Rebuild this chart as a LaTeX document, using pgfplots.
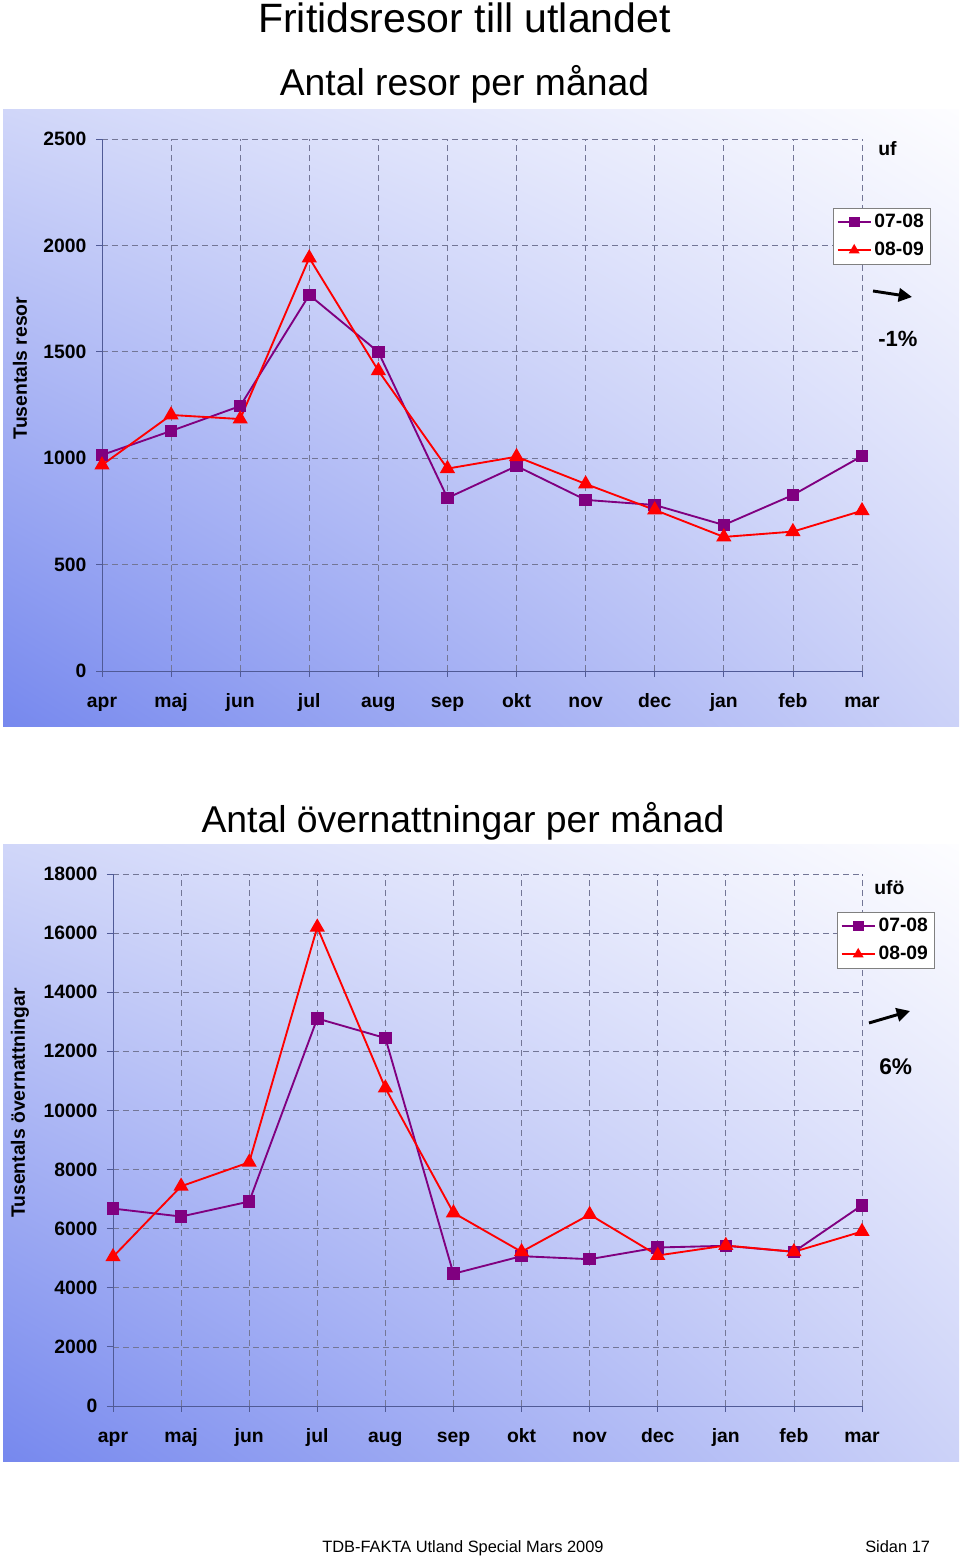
\documentclass[border=0pt]{standalone}
\usepackage{pgfplots}
\pgfplotsset{compat=1.18}
\usepackage{pgfplotstable}
\usepackage{fontspec}
\setmainfont{Liberation Sans}
\usetikzlibrary{arrows.meta,shadings}

\definecolor{ser1}{RGB}{128,0,128}
\definecolor{ser2}{RGB}{255,0,0}
\definecolor{gridc}{RGB}{115,118,150}
\definecolor{axc}{RGB}{80,90,150}
\definecolor{bgLL}{RGB}{118,136,238}
\definecolor{bgUL}{RGB}{208,214,249}
\definecolor{bgLR}{RGB}{204,210,248}
\definecolor{bgUR}{RGB}{253,253,255}

\pgfplotstableread{
x a b
0 1015 968
1 1128 1203
2 1245 1184
3 1767 1941
4 1499 1411
5 813 951
6 963 1007
7 804 879
8 780 757
9 686 630
10 827 655
11 1010 753
}\resor

\pgfplotstableread{
x a b
0 6680 5048
1 6410 7434
2 6917 8245
3 13111 16200
4 12449 10759
5 4474 6535
6 5069 5217
7 4967 6478
8 5363 5093
9 5420 5430
10 5217 5217
11 6792 5903
}\overn

\pgfplotsset{
 panel/.style={
  scale only axis,
  xmin=0, xmax=11, ymin=0,
  axis lines=left,
  axis line style={-, draw=axc, line width=0.6pt},
  xtick={0,...,11},
  xticklabels={apr,maj,jun,jul,aug,sep,okt,nov,dec,jan,feb,mar},
  grid=major,
  major grid style={draw=gridc, line width=0.5pt, dash pattern=on 4.5pt off 3pt},
  tick align=outside, major tick length=4.5pt,
  tick style={draw=axc, line width=0.6pt},
  ticklabel style={font=\fontsize{14.5}{16}\selectfont\bfseries},
  /pgf/number format/assume math mode=true,
  scaled y ticks=false,
  yticklabel style={/pgf/number format/1000 sep={}, xshift=-3.75pt},
  xticklabel style={text height=10.5pt, text depth=3pt, yshift=-9.2pt},
  label style={font=\fontsize{14.5}{16}\selectfont\bfseries},
  legend style={draw=gray, fill=white, font=\fontsize{14.5}{16}\selectfont\bfseries,
     legend cell align=left, inner xsep=2.5pt, inner ysep=2.5pt, row sep=5.5pt, anchor=north west,
     /tikz/every even column/.append style={column sep=1pt}},
  legend image code/.code={\draw[mark repeat=2, mark phase=2, mark size=3.3pt]
     plot coordinates {(0cm,0cm) (0.44cm,0cm) (0.88cm,0cm)};},
 },
 s1/.style={color=ser1, line width=1.4pt, mark=square*, mark size=4pt, mark options={solid}},
 s2/.style={color=ser2, line width=1.4pt, mark=triangle*, mark size=5.2pt, mark options={solid}},
}

\begin{document}
\begin{tikzpicture}[x=0.75pt, y=0.75pt]
\path[use as bounding box] (0,0) rectangle (960,1557);

% panel backgrounds
\shade[upper left=bgUL, upper right=bgUR, lower left=bgLL, lower right=bgLR]
  (3,830) rectangle (959,1447);
\shade[upper left=bgUL, upper right=bgUR, lower left=bgLL, lower right=bgLR]
  (3,95) rectangle (959,712);

% titles
\node[anchor=base, font=\fontsize{30.75}{34}\selectfont] at (464.5,1524) {Fritidsresor till utlandet};
\node[anchor=base, font=\fontsize{28}{32}\selectfont] at (464.5,1461) {Antal resor per månad};
\node[anchor=base, font=\fontsize{28}{32}\selectfont] at (463,724) {Antal övernattningar per månad};

% top chart
\begin{axis}[panel,
  at={(76.5pt,664.5pt)}, anchor=south west,
  width=570pt, height=399pt,
  ymax=2500, ytick={0,500,...,2500},
  ylabel={Tusentals resor},
  ylabel style={at={(axis description cs:-0.1079,0.5695)}, anchor=center},
  legend style={at={(axis description cs:0.9618,0.8703)}},
]
\addplot[s1] table[x=x, y=a] {\resor};
\addlegendentry{07-08}
\addplot[s2] table[x=x, y=b] {\resor};
\addlegendentry{08-09}
\end{axis}

% bottom chart
\begin{axis}[panel,
  at={(84.75pt,113.25pt)}, anchor=south west,
  width=561.75pt, height=399pt,
  ymax=18000, ytick={0,2000,...,18000},
  ylabel={Tusentals övernattningar},
  ylabel style={at={(axis description cs:-0.1242,0.5695)}, anchor=center},
  legend style={at={(axis description cs:0.9666,0.9286)}},
]
\addplot[s1] table[x=x, y=a] {\overn};
\addlegendentry{07-08}
\addplot[s2] table[x=x, y=b] {\overn};
\addlegendentry{08-09}
\end{axis}

% annotations
\node[anchor=west, font=\fontsize{14.5}{16}\selectfont\bfseries, inner sep=0pt] at (878,1408) {uf};
\draw[line width=2.2pt, -{Triangle[length=10pt,width=10pt]}] (873,1266) -- (912,1260);
\node[anchor=west, font=\fontsize{16.5}{18}\selectfont\bfseries, inner sep=0pt] at (878,1218) {-1\%};

\node[anchor=west, font=\fontsize{14.5}{16}\selectfont\bfseries, inner sep=0pt] at (874,669) {ufö};
\draw[line width=2.2pt, -{Triangle[length=10pt,width=10pt]}] (869,534) -- (910,546);
\node[anchor=west, font=\fontsize{17}{19}\selectfont\bfseries, inner sep=0pt] at (879,490) {6\%};

% footer
\node[anchor=base west, font=\fontsize{12.3}{14}\selectfont, inner sep=0pt] at (322,4) {TDB-FAKTA Utland Special Mars 2009};
\node[anchor=base west, font=\fontsize{12.3}{14}\selectfont, inner sep=0pt] at (865,4) {Sidan 17};
\end{tikzpicture}
\end{document}
